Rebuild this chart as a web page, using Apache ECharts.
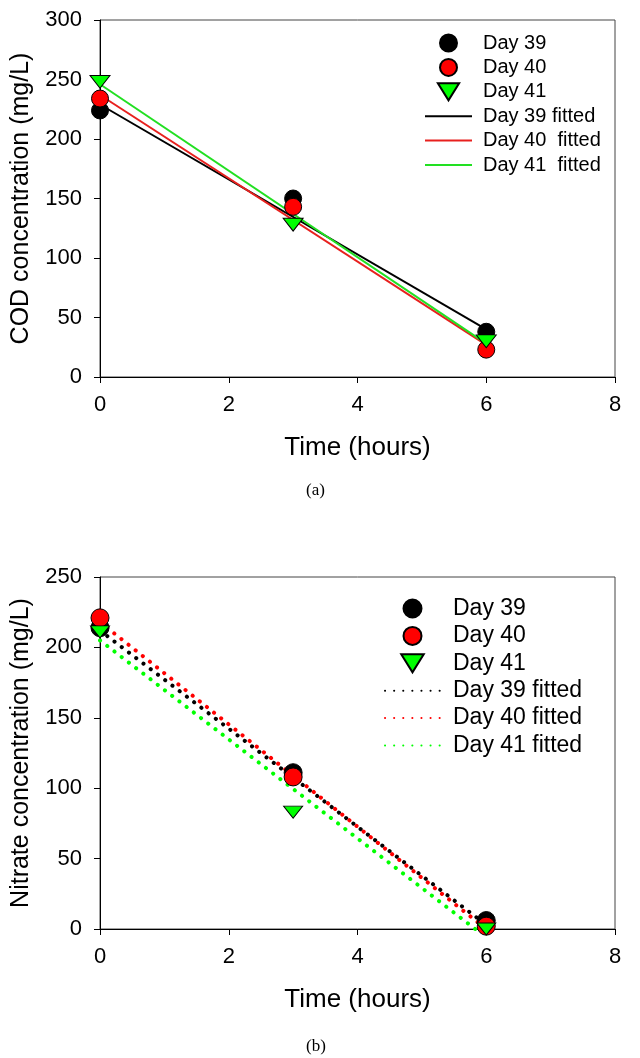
<!DOCTYPE html>
<html><head><meta charset="utf-8">
<script src="https://cdn.jsdelivr.net/npm/echarts@6/dist/echarts.min.js"></script>
<style>html,body{margin:0;padding:0;background:#fff}#c{width:640px;height:1058px}</style>
</head><body><div id="c"></div>
<script>
// ---- data ----
const xTickValues = [0, 2, 4, 6, 8];
const timesObs = [0, 3, 6];
const fitTimes = [0, 6];
// (a) COD
const codDay39 = [224, 150, 38];
const codDay40 = [234, 143, 23];
const codDay41 = [248, 128, 30];
const codFit39 = [229, 40];
const codFit40 = [237, 27];
const codFit41 = [246, 28];
// (b) Nitrate
const no3Day39 = [214, 111, 6];
const no3Day40 = [221, 108, 2];
const no3Day41 = [211, 83, 0];
const no3Fit39 = [212, 3];
const no3Fit40 = [218, 0];
const no3Fit41 = [205, -6];

const pairs = (xs, ys) => xs.map((x, i) => [x, ys[i]]);
const FONT = 'Liberation Sans, Arial, sans-serif';
const TRI = 'path://M0,0L20,0L10,16Z';
const GREEN = '#00ff00';

function xAxisCfg(gi) {
  return {
    gridIndex: gi, type: 'value', min: 0, max: 8, interval: 2,
    name: 'Time (hours)', nameLocation: 'middle', nameGap: 58,
    nameTextStyle: { fontSize: 26, fontFamily: FONT, color: '#000' },
    axisLine: { show: true, lineStyle: { color: '#000', width: 1 } },
    axisTick: { show: true, inside: false, length: 6, lineStyle: { color: '#000' } },
    axisLabel: { fontSize: 22, fontFamily: FONT, color: '#000', margin: 17 },
    splitLine: { show: false }
  };
}
function yAxisCfg(gi, name, max) {
  return {
    gridIndex: gi, type: 'value', min: 0, max: max, interval: 50,
    name: name, nameLocation: 'middle', nameGap: 66,
    nameTextStyle: { fontSize: 25, fontFamily: FONT, color: '#000' },
    axisLine: { show: true, lineStyle: { color: '#000', width: 1 } },
    axisTick: { show: true, inside: false, length: 6, lineStyle: { color: '#000' } },
    axisLabel: { fontSize: 22, fontFamily: FONT, color: '#000', margin: 18 },
    splitLine: { show: false }
  };
}
function scatter(name, gi, data, symbol, size, color, z) {
  return {
    name: name, type: 'scatter', xAxisIndex: gi, yAxisIndex: gi,
    data: data, symbol: symbol, symbolSize: size, symbolKeepAspect: true,
    itemStyle: { color: color, borderColor: '#000', borderWidth: 1, opacity: 1 },
    emphasis: { disabled: true },
    z: z
  };
}
function fitLine(name, gi, data, color, dotted) {
  return {
    name: name, type: 'line', xAxisIndex: gi, yAxisIndex: gi,
    data: data, symbol: 'none', showSymbol: false, clip: true,
    lineStyle: dotted
      ? { color: color, width: 4, type: [0.1, 9], cap: 'round' }
      : { color: color, width: 2 },
    itemStyle: { color: color },
    emphasis: { disabled: true },
    z: 2
  };
}

const strip = n => n.replace(/^B /, '');
const noSym = n => ({ name: n, itemStyle: { opacity: 0, borderWidth: 0 } });

const option = {
  animation: false,
  backgroundColor: '#fff',
  grid: [
    { left: 100, top: 20, width: 515, height: 357, show: true, borderColor: '#444', borderWidth: 1 },
    { left: 100, top: 577, width: 515, height: 352, show: true, borderColor: '#444', borderWidth: 1 }
  ],
  xAxis: [xAxisCfg(0), xAxisCfg(1)],
  yAxis: [yAxisCfg(0, 'COD concentration (mg/L)', 300), yAxisCfg(1, 'Nitrate concentration (mg/L)', 250)],
  legend: [
    {
      orient: 'vertical', left: 419, top: 28, itemWidth: 47, itemHeight: 17, itemGap: 4.4,
      textStyle: { fontSize: 20, fontFamily: FONT, color: '#000', padding: [0, 0, 0, 6], lineHeight: 17 },
      data: ['Day 39', 'Day 40', 'Day 41', noSym('Day 39 fitted'), noSym('Day 40  fitted'), noSym('Day 41  fitted')],
      selectedMode: false
    },
    {
      orient: 'vertical', left: 379, top: 592, itemWidth: 55, itemHeight: 18, itemGap: 4.4,
      textStyle: { fontSize: 23, fontFamily: FONT, color: '#000', padding: [0, 0, 0, 8], lineHeight: 18 },
      data: ['B Day 39', 'B Day 40', 'B Day 41', noSym('B Day 39 fitted'), noSym('B Day 40 fitted'), noSym('B Day 41 fitted')],
      formatter: strip,
      selectedMode: false
    }
  ],
  series: [
    fitLine('Day 39 fitted', 0, pairs(fitTimes, codFit39), '#000', false),
    fitLine('Day 40  fitted', 0, pairs(fitTimes, codFit40), '#e8201e', false),
    fitLine('Day 41  fitted', 0, pairs(fitTimes, codFit41), '#22e022', false),
    scatter('Day 39', 0, pairs(timesObs, codDay39), 'circle', 17, '#000', 5),
    scatter('Day 40', 0, pairs(timesObs, codDay40), 'circle', 17, '#ff0000', 6),
    scatter('Day 41', 0, pairs(timesObs, codDay41), TRI, [20, 16], GREEN, 7),

    scatter('B Day 39', 1, pairs(timesObs, no3Day39), 'circle', 18, '#000', 5),
    scatter('B Day 40', 1, pairs(timesObs, no3Day40), 'circle', 18, '#ff0000', 6),
    scatter('B Day 41', 1, pairs(timesObs, no3Day41), TRI, [19, 15], GREEN, 7),
    fitLine('B Day 39 fitted', 1, pairs(fitTimes, no3Fit39), '#000', true),
    fitLine('B Day 40 fitted', 1, pairs(fitTimes, no3Fit40), '#ff0000', true),
    fitLine('B Day 41 fitted', 1, pairs(fitTimes, no3Fit41), GREEN, true)
  ],
  graphic: [
    { type: 'text', left: 306, top: 482, style: { text: '(a)', fontSize: 17, fontFamily: 'Liberation Serif, serif', fill: '#000' } },
    { type: 'text', left: 306, top: 1038, style: { text: '(b)', fontSize: 17, fontFamily: 'Liberation Serif, serif', fill: '#000' } }
  ]
};

const chart = echarts.init(document.getElementById('c'), null, { renderer: 'canvas' });
chart.setOption(option);
</script>
</body></html>
